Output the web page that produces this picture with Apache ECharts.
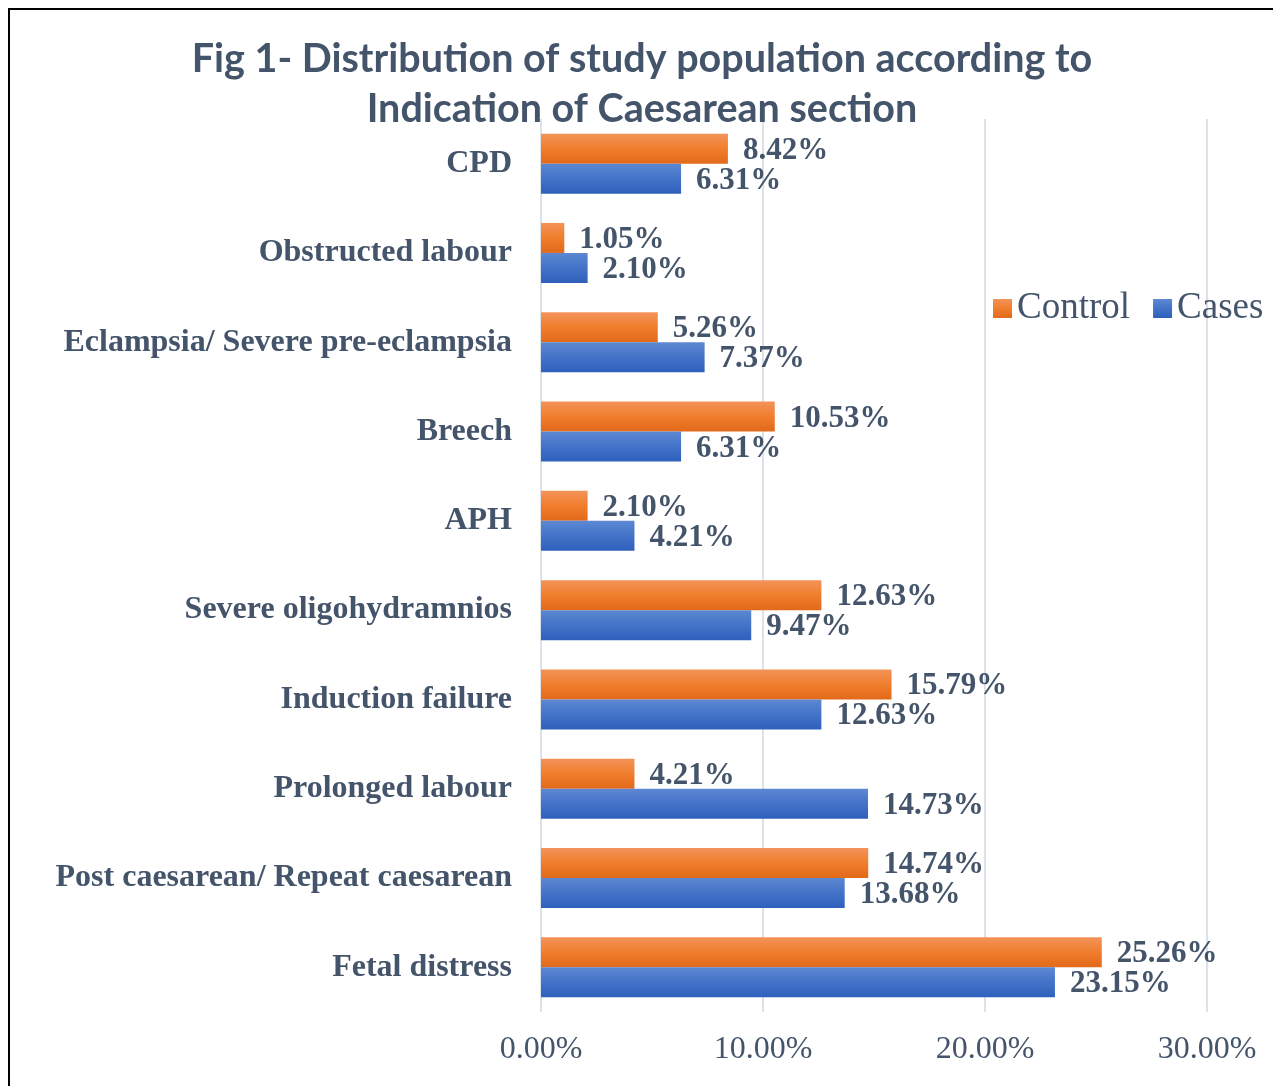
<!DOCTYPE html>
<html>
<head>
<meta charset="utf-8">
<script src="https://cdn.jsdelivr.net/npm/echarts@6/dist/echarts.min.js"></script>
<style>
html, body { margin: 0; padding: 0; background: #fff; }
#chartBox { width: 1273px; height: 1086px; }
</style>
</head>
<body>
<div id="chartBox"></div>
<script>
// categories, top to bottom as in the figure
var categories = [
  "CPD",
  "Obstructed labour",
  "Eclampsia/ Severe pre-eclampsia",
  "Breech",
  "APH",
  "Severe oligohydramnios",
  "Induction failure",
  "Prolonged labour",
  "Post caesarean/ Repeat caesarean",
  "Fetal distress"
];
var controlValues = [8.42, 1.05, 5.26, 10.53, 2.10, 12.63, 15.79, 4.21, 14.74, 25.26];
var casesValues = [6.31, 2.10, 7.37, 6.31, 4.21, 9.47, 12.63, 14.73, 13.68, 23.15];
var xTicks = [0, 10, 20, 30];

var textColor = "#44546A";
var serif = "'Liberation Serif', 'Times New Roman', serif";

function grad(top, mid, bottom) {
  return new echarts.graphic.LinearGradient(0, 0, 0, 1, [
    { offset: 0, color: top },
    { offset: 0.5, color: mid },
    { offset: 1, color: bottom }
  ]);
}

var labelStyle = {
  show: true,
  position: "right",
  distance: 15,
  offset: [0, 2],
  color: textColor,
  fontFamily: serif,
  fontWeight: "bold",
  fontSize: 31,
  formatter: function (p) { return p.value.toFixed(2) + "%"; }
};

var option = {
  backgroundColor: "#fff",
  animation: false,
  title: {
    text: "Fig 1- Distribution of study population according to\nIndication of Caesarean section",
    left: 637,
    top: 29,
    textAlign: "center",
    textStyle: {
      color: textColor,
      fontFamily: "Lato, 'Open Sans', sans-serif",
      fontWeight: "bold",
      fontSize: 39.5,
      lineHeight: 50
    }
  },
  legend: {
    data: ["Control", "Cases"],
    left: 988,
    top: 285,
    icon: "rect",
    itemWidth: 19,
    itemHeight: 19,
    itemGap: 23,
    textStyle: {
      color: textColor,
      fontFamily: serif,
      fontSize: 37,
      lineHeight: 36,
      padding: [0, 0, 0, 0]
    }
  },
  grid: {
    left: 541,
    right: 66,
    top: 119,
    bottom: 74,
    containLabel: false
  },
  xAxis: {
    type: "value",
    min: xTicks[0],
    max: xTicks[xTicks.length - 1],
    interval: 10,
    axisLine: { show: false },
    axisTick: { show: false },
    splitLine: { lineStyle: { color: "#DDE1E8", width: 2 } },
    axisLabel: {
      color: textColor,
      fontFamily: serif,
      fontSize: 32,
      margin: 22,
      formatter: function (v) { return v.toFixed(2) + "%"; }
    }
  },
  yAxis: {
    type: "category",
    inverse: true,
    data: categories,
    axisLine: { show: false },
    axisTick: { show: false },
    axisLabel: {
      color: textColor,
      fontFamily: serif,
      fontWeight: "bold",
      fontSize: 32,
      margin: 29
    }
  },
  series: [
    {
      name: "Control",
      type: "bar",
      data: controlValues,
      barWidth: 30,
      barGap: "0%",
      itemStyle: { color: grad("#F3935A", "#F07E2C", "#E2691A") },
      label: labelStyle
    },
    {
      name: "Cases",
      type: "bar",
      data: casesValues,
      barWidth: 30,
      barGap: "0%",
      itemStyle: { color: grad("#5D88D2", "#4373C8", "#2E60BC") },
      label: labelStyle
    }
  ],
  graphic: [
    {
      type: "rect",
      silent: true,
      shape: { x: 9, y: 9, width: 1400, height: 1200 },
      style: { fill: null, stroke: "#000", lineWidth: 2 }
    }
  ]
};

var chart = echarts.init(document.getElementById("chartBox"));
chart.setOption(option);
</script>
</body>
</html>
